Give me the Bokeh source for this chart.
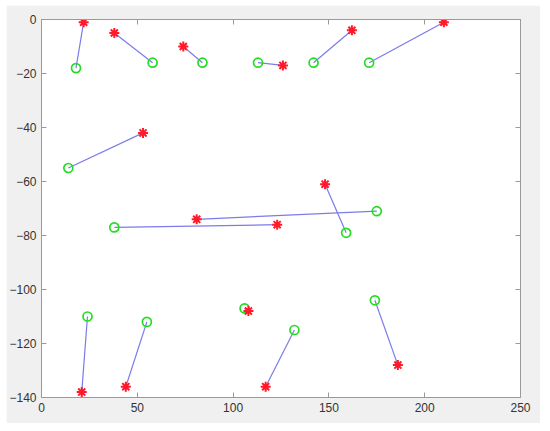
from bokeh.plotting import figure
from bokeh.models import Range1d, LinearAxis, FixedTicker, CustomJSTickFormatter
from bokeh.embed import file_html
from bokeh.resources import INLINE

# Pairs: red asterisk (start) -> green circle (end)
star_x = [22, 38, 74, 126, 162, 210, 53, 148, 81, 123, 21, 44, 108, 117, 186]
star_y = [-1, -5, -10, -17, -4, -1, -42, -61, -74, -76, -138, -136, -108, -136, -128]
circ_x = [18, 58, 84, 113, 142, 171, 14, 159, 175, 38, 24, 55, 106, 132, 174]
circ_y = [-18, -16, -16, -16, -16, -16, -55, -79, -71, -77, -110, -112, -107, -115, -104]

x_ticks = [0, 50, 100, 150, 200, 250]
y_ticks = [0, -20, -40, -60, -80, -100, -120, -140]

AX = "#9a9a9a"
TXT = "#333333"

p = figure(width=534, height=418, output_backend="svg", toolbar_location=None,
           x_range=Range1d(0, 250), y_range=Range1d(-140, 0),
           min_border_left=35, min_border_right=20, min_border_top=14, min_border_bottom=26)
p.margin = (5, 0, 0, 6)
p.border_fill_color = "#f0f0f0"
p.background_fill_color = "white"
p.outline_line_color = AX
p.xgrid.visible = False
p.ygrid.visible = False

for ax, ticks in ((p.xaxis[0], x_ticks), (p.yaxis[0], y_ticks)):
    ax.ticker = FixedTicker(ticks=ticks)
    ax.major_tick_in = 5
    ax.major_tick_out = 0
    ax.minor_tick_line_color = None
    ax.axis_line_color = AX
    ax.major_tick_line_color = AX
    ax.major_label_text_color = TXT
    ax.major_label_text_font = "Liberation Sans"
    ax.major_label_text_font_size = "12px"
    ax.major_label_standoff = 5

blank = CustomJSTickFormatter(code="return '';")
top = LinearAxis(ticker=FixedTicker(ticks=x_ticks), major_tick_in=5, major_tick_out=0,
                 minor_tick_line_color=None, axis_line_color=AX, major_tick_line_color=AX,
                 formatter=blank, major_label_standoff=0)
right = LinearAxis(ticker=FixedTicker(ticks=y_ticks), major_tick_in=5, major_tick_out=0,
                   minor_tick_line_color=None, axis_line_color=AX, major_tick_line_color=AX,
                   formatter=blank, major_label_standoff=0)
p.add_layout(top, "above")
p.add_layout(right, "right")

xs = [[a, b] for a, b in zip(star_x, circ_x)]
ys = [[a, b] for a, b in zip(star_y, circ_y)]
p.multi_line(xs, ys, line_color="#7b7bea", line_width=1.2)
p.scatter(circ_x, circ_y, marker="circle", size=9, fill_color=None,
          line_color="#22dd22", line_width=1.7)
p.scatter(star_x, star_y, marker="asterisk", size=10, line_color="#ff1a2a", line_width=2)
p.scatter(star_x, star_y, marker="circle", size=5, fill_color="#ff1a2a", line_color=None, fill_alpha=0.7)

open("out.html", "w").write(file_html(p, INLINE))
